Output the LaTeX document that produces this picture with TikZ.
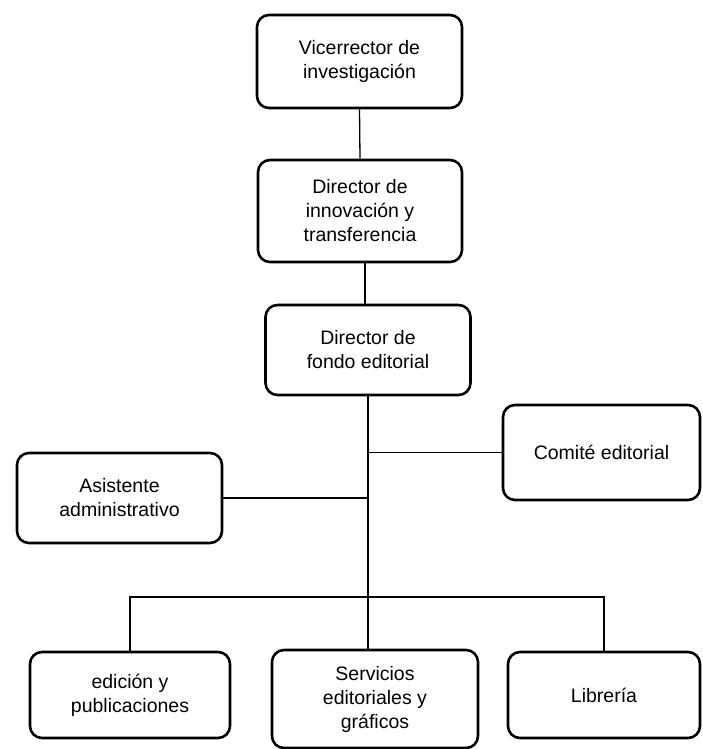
\documentclass[tikz,border=0pt]{standalone}
\usepackage{fontspec}
\setmainfont{Liberation Sans}
\begin{document}
\begin{tikzpicture}[x=1pt,y=-1pt,
    unit/.style={draw,line width=2.6pt,rounded corners=12pt,align=center,
      inner sep=0pt,font=\fontsize{19.5}{24}\selectfont},
    link/.style={line width=1.3pt}]
  \useasboundingbox (0,0) rectangle (702,749);
  % levels of the chart
  \node[unit,minimum width=205pt,minimum height=93pt] (vice) at (359.5,61.5)
    {Vicerrector de\\investigación};
  \node[unit,minimum width=204pt,minimum height=102pt] (innov) at (360,211)
    {Director de\\innovación y\\transferencia};
  \node[unit,minimum width=205pt,minimum height=90pt] (fondo) at (368,350)
    {Director de\\fondo editorial};
  \node[unit,minimum width=197pt,minimum height=95pt] (comite) at (601.5,452.5)
    {Comité editorial};
  \node[unit,minimum width=205pt,minimum height=90pt] (asist) at (119.5,498)
    {Asistente\\administrativo};
  \node[unit,minimum width=200pt,minimum height=86pt] (edicion) at (130,695)
    {edición y\\publicaciones};
  \node[unit,minimum width=206pt,minimum height=98pt] (servicios) at (375,699)
    {Servicios\\editoriales y\\gráficos};
  \node[unit,minimum width=192pt,minimum height=86pt] (libreria) at (604,695)
    {Librería};
  % connectors
  \coordinate (bus) at (368,597);
  \draw[link] (vice.south) -- (innov.north);
  \draw[link] ([xshift=5pt]innov.south) -- ([xshift=5pt]innov.south |- fondo.north);
  \draw[link] (fondo.south) -- (fondo.south |- servicios.north);
  \draw[link] (fondo.south |- comite.west) -- (comite.west);
  \draw[link] (asist.east) -- (asist.east -| fondo.south);
  \draw[link] (edicion.north) |- (bus) -| (libreria.north);
\end{tikzpicture}
\end{document}
